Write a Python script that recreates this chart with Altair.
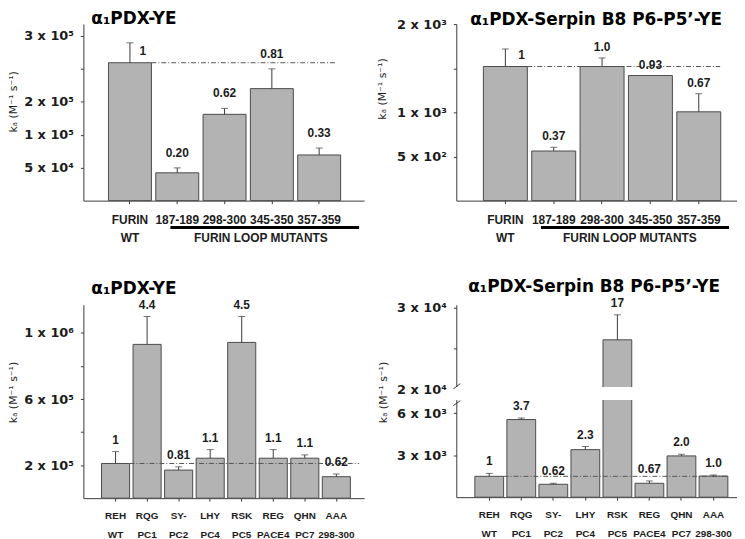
import altair as alt
import pandas as pd

# ---------------- data ----------------
top_cats = ["FURIN WT", "187-189", "298-300", "345-350", "357-359"]
top_line1 = ["FURIN", "187-189", "298-300", "345-350", "357-359"]
top_line2 = ["WT", "", "", "", ""]

p1_vals = [209300, 42200, 131000, 170000, 69300]
p1_errs = [239500, 49700, 140000, 200000, 79800]
p1_ratio = ["1", "0.20", "0.62", "0.81", "0.33"]
p1_ticks = [50000, 100000, 150000, 200000, 250000]
p1_tick_labels = ["5 x 10⁴", "1 x 10⁵", "2 x 10⁵", "", "3 x 10⁵"]

p2_vals = [1519, 562, 1519, 1417, 1006]
p2_errs = [1718, 604, 1616, None, 1211]
p2_ratio = ["1", "0.37", "1.0", "0.93", "0.67"]
p2_ticks = [500, 1000, 1500, 2000]
p2_tick_labels = ["5 x 10²", "1 x 10³", "", "2 x 10³"]

bot_line1 = ["REH", "RQG", "SY-", "LHY", "RSK", "REG", "QHN", "AAA"]
bot_line2 = ["WT", "PC1", "PC2", "PC4", "PC5", "PACE4", "PC7", "298-300"]
bot_cats = [a + " " + b for a, b in zip(bot_line1, bot_line2)]

p3_vals = [210000, 931000, 170000, 242000, 943000, 242000, 242000, 130000]
p3_errs = [282000, 1100000, 190000, 294000, 1100000, 294000, 262000, 146000]
p3_ratio = ["1", "4.4", "0.81", "1.1", "4.5", "1.1", "1.1", "0.62"]
p3_ticks = [200000, 400000, 600000, 800000, 1000000]
p3_tick_labels = ["2 x 10⁵", "", "6 x 10⁵", "", "1 x 10⁶"]

p4_vals = [1490, 5550, 922, 3400, 26050, 993, 2950, 1510]
p4_errs = [1700, 5670, 993, 3620, 29100, 1160, 3070, 1580]
p4_ratio = ["1", "3.7", "0.62", "2.3", "17", "0.67", "2.0", "1.0"]
p4_ticks = [3000, 6000, 20000, 25000, 30000]
p4_tick_labels = ["3 x 10³", "6 x 10³", "2 x 10⁴", "", "3 x 10⁴"]
p4_gap = [6950, 20300]          # axis break region (data units)
p4_slash_a = [20050, 6550]
p4_slash_b = [20700, 6900]

TITLE_A = "α₁PDX-YE"
TITLE_B = "α₁PDX-Serpin B8 P6-P5’-YE"
Y_TITLE = "kₐ (M⁻¹ s⁻¹)"
GROUP_LABEL = "FURIN  LOOP  MUTANTS"

# ---------------- style ----------------
WIDE = "DejaVu Sans"
ARIAL = "Liberation Sans"
TXT = "#1c1c1c"
AX = "#3a3a3a"
BAR_FILL = "#b3b3b3"
BAR_STROKE = "#4a4a4a"


def label_expr(values, labels):
    expr = "''"
    for v, l in reversed(list(zip(values, labels))):
        expr = f"datum.value == {v} ? '{l}' : ({expr})"
    return expr


def panel(cats, line1, line2, vals, errs, ratios, ticks, tick_labels, yscale,
          width, height, title, title_dx, title_offset, xpad, dash_end,
          ytitle_x, ytitle_y, cat_size, cat_off1, cat_off2, top=False,
          wt_bp=0.8, ul_bp=0.3, ul_end=None, group_x=None, gap=None, vdy=-13):
    df = pd.DataFrame({"cat": cats, "line1": line1, "line2": line2,
                       "val": vals, "err": errs, "ratio": ratios})
    df["ly"] = df["err"].fillna(df["val"])
    base = alt.Chart(df)

    pi, po, al = xpad
    xaxis = alt.Axis(labels=False, title=None, ticks=True, tickSize=3,
                     domainColor=AX, tickColor=AX, grid=False, zindex=0)
    yaxis = alt.Axis(values=ticks, labelExpr=label_expr(ticks, tick_labels),
                     title=Y_TITLE, titleX=ytitle_x, titleY=ytitle_y,
                     titleAngle=270, titleAlign="right", titleBaseline="middle",
                     titleFont=WIDE, titleFontSize=11, titleFontWeight="normal",
                     titleColor=TXT, labelFont=WIDE, labelFontSize=13,
                     labelFontWeight="bold", labelColor=TXT, labelPadding=7,
                     tickSize=3, domainColor=AX, tickColor=AX, grid=False,
                     zindex=0)
    xscale = alt.Scale(domain=cats, paddingInner=pi, paddingOuter=po, align=al)

    def X(bp=None):
        if bp is None:
            return alt.X("cat:N", sort=cats, scale=xscale, axis=xaxis)
        return alt.X("cat:N", sort=cats, scale=xscale, axis=xaxis, bandPosition=bp)

    def Y(f):
        return alt.Y(f"{f}:Q", scale=yscale, axis=yaxis)

    bars = base.mark_bar(fill=BAR_FILL, stroke=BAR_STROKE, strokeWidth=1).encode(
        x=X(), y=Y("val"))
    err_base = base.transform_filter("isValid(datum.err)")
    err_rule = err_base.mark_rule(color=AX, strokeWidth=1).encode(
        x=X(), y=Y("val"), y2="err:Q")
    err_cap = err_base.mark_tick(color=AX, size=7, thickness=1).encode(
        x=X(), y=Y("err"))
    dash = base.transform_filter(alt.datum.cat == cats[0]).mark_rule(
        color="#555555", strokeDash=[5, 2, 1, 2], strokeWidth=1).encode(
        x=X(1), x2=alt.value(dash_end), y=Y("val"))

    txt = dict(font=ARIAL, fontWeight="bold", color=TXT, baseline="middle")
    vbase = base.transform_filter(alt.datum.cat != cats[0]) if top else base
    vlabels = vbase.mark_text(fontSize=12, dy=vdy, **txt).encode(
        x=X(), y=Y("ly"), text="ratio:N")
    layers = [bars]
    if gap is not None:
        gdf = pd.DataFrame({"lo": [gap[0]], "hi": [gap[1]]})
        layers.append(alt.Chart(gdf).mark_rect(fill="white").encode(
            x=alt.value(-4), x2=alt.value(width), y=Y("lo"), y2="hi:Q"))
    layers += [err_rule, err_cap, dash, vlabels]

    if top:
        wt = base.transform_filter(alt.datum.cat == cats[0]).mark_text(
            fontSize=12, dy=-12, **txt).encode(
            x=X(wt_bp), y=Y("val"), text="ratio:N")
        layers.append(wt)

    l1 = base.mark_text(fontSize=cat_size, **txt).encode(
        x=X(), y=alt.value(height + cat_off1), text="line1:N")
    l2 = base.mark_text(fontSize=cat_size, **txt).encode(
        x=X(), y=alt.value(height + cat_off2), text="line2:N")
    layers += [l1, l2]

    if top:
        ul = base.transform_filter(alt.datum.cat == cats[1]).mark_rule(
            color="black", strokeWidth=3).encode(
            x=X(ul_bp), x2=alt.value(ul_end), y=alt.value(height + 27))
        gl = alt.Chart(pd.DataFrame({"t": [GROUP_LABEL]})).mark_text(
            fontSize=12, **txt).encode(
            x=alt.value(group_x), y=alt.value(height + cat_off2), text="t:N")
        layers += [ul, gl]

    if gap is not None:
        sdf = pd.DataFrame({"a": p4_slash_a, "b": p4_slash_b})
        layers.append(alt.Chart(sdf).mark_rule(color=AX, strokeWidth=1).encode(
            x=alt.value(-3), x2=alt.value(4), y=Y("a"), y2="b:Q"))

    return alt.layer(*layers).properties(
        width=width, height=height,
        title=alt.Title(title, font=WIDE, fontSize=17, fontWeight="bold", color="black",
                        anchor="start", frame="group", dx=title_dx, offset=title_offset,
                        baseline="alphabetic"))


W = 283
p1 = panel(top_cats, top_line1, top_line2, p1_vals, p1_errs, p1_ratio, p1_ticks,
           p1_tick_labels, alt.Scale(domain=[0, 268000], nice=False, zero=True),
           W, 178, TITLE_A, 8, -17, (0.092, 0.513, 0.517), 254, -70, 47,
           12, 20, 38, top=True, wt_bp=0.8, ul_bp=0.34, ul_end=278, group_x=179,
           vdy=-15)
p2 = panel(top_cats, top_line1, top_line2, p2_vals, p2_errs, p2_ratio, p2_ticks,
           p2_tick_labels, alt.Scale(domain=[0, 2000], nice=False, zero=True),
           W, 178, TITLE_B, 14, -23.5, (0.091, 0.448, 0.625), 266, -74, 34,
           12, 20, 38, top=True, wt_bp=0.87, ul_bp=0.21, ul_end=275, group_x=175,
           vdy=-11)
p3 = panel(bot_cats, bot_line1, bot_line2, p3_vals, p3_errs, p3_ratio, p3_ticks,
           p3_tick_labels, alt.Scale(domain=[0, 1171000], nice=False, zero=True),
           W, 195, TITLE_A, 8, -12.5, (0.11, 0.505, 0.57), 278, -70, 57,
           10, 17.5, 37.5, vdy=-12)
p4 = panel(bot_cats, bot_line1, bot_line2, p4_vals, p4_errs, p4_ratio, p4_ticks,
           p4_tick_labels,
           alt.Scale(domain=[0, 7000, 20000, 30330], range=[194, 95.3, 85.3, 0],
                     nice=False, zero=False),
           W, 194, TITLE_B, 12, -11.5, (0.102, 0.432, 0.67), 274, -73, 57,
           10, 17.5, 37.5, gap=p4_gap, vdy=-12)

chart = alt.concat(p1, p2, p3, p4, columns=2, spacing={"row": 105, "column": 93},
                   bounds="flush").properties(padding=0, background="white") \
    .configure_view(stroke=None)

chart.save("out.html", embed_options={"renderer": "svg", "actions": False})
